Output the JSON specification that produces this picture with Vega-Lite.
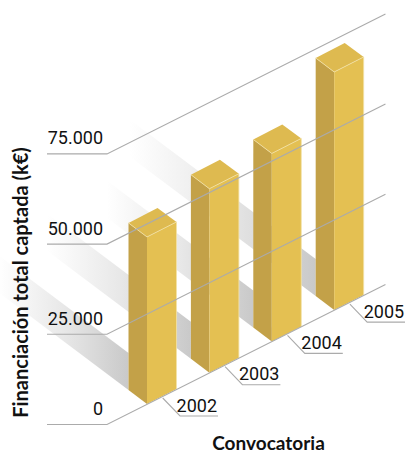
{
  "$schema": "https://vega.github.io/schema/vega-lite/v6.json",
  "width": 405,
  "height": 452,
  "padding": 0,
  "autosize": {"type": "none"},
  "background": "white",
  "config": {"view": {"stroke": null}},
  "datasets": {
    "bars": [
      {"year": 2002, "value": 46300},
      {"year": 2003, "value": 51000},
      {"year": 2004, "value": 52100},
      {"year": 2005, "value": 66000}
    ],
    "levels": [
      {"level": 0, "label": "0"},
      {"level": 25000, "label": "25.000"},
      {"level": 50000, "label": "50.000"},
      {"level": 75000, "label": "75.000"}
    ]
  },
  "encoding": {
    "x": {
      "field": "px",
      "type": "quantitative",
      "scale": {"domain": [1999.644, 2006.135], "range": [0, 405], "nice": false, "zero": false},
      "axis": {"title": "Convocatoria", "domain": false, "ticks": false, "labels": false, "grid": false, "zindex": 1, "titleFont": "Lato", "titleFontSize": 19, "titleFontWeight": "bold", "titleColor": "#111", "titleX": 268, "titleY": -3, "titleAlign": "center", "titleBaseline": "alphabetic"}
    },
    "y": {
      "field": "pu",
      "type": "quantitative",
      "scale": {"domain": [-13304, 111973], "nice": false, "zero": false},
      "axis": {"title": "Financiación total captada (k€)", "domain": false, "ticks": false, "labels": false, "grid": false, "zindex": 1, "titleFont": "Lato", "titleFontSize": 20, "titleFontWeight": "bold", "titleColor": "#111", "titleAngle": 270, "titleX": 27, "titleY": 282, "titleAlign": "center", "titleBaseline": "alphabetic"}
    }
  },
  "layer": [
    {
      "data": {"name": "bars"},
      "transform": [
        {"calculate": "[{k:0,far:1},{k:1,far:0}]", "as": "pts"},
        {"flatten": ["pts"]},
        {"calculate": "datum.year - 0.2965 - datum.pts.far * datum.value * 0.0000451", "as": "px"},
        {"calculate": "(datum.year - 2002) * 8675 + 3880 + datum.pts.far * datum.value * 0.585", "as": "pu"},
        {"calculate": "datum.pu + 10256", "as": "pu2"}
      ],
      "mark": {
        "type": "area",
        "orient": "vertical",
        "color": {
          "gradient": "linear", "x1": 0, "y1": 0, "x2": 1, "y2": 0,
          "stops": [
            {"offset": 0, "color": "rgba(200,200,200,0)"},
            {"offset": 0.5, "color": "rgba(200,200,200,0.42)"},
            {"offset": 1, "color": "rgba(198,198,198,0.95)"}
          ]
        }
      },
      "encoding": {
        "y2": {"field": "pu2"},
        "detail": {"field": "year", "type": "nominal"}
      }
    },
    {
      "data": {"name": "bars"},
      "transform": [
        {"calculate": "[{f:'left',k:0,dx:-0.2965,du:3880,h:0},{f:'left',k:1,dx:0,du:0,h:0},{f:'left',k:2,dx:0,du:0,h:1},{f:'left',k:3,dx:-0.2965,du:3880,h:1},{f:'front',k:0,dx:0,du:0,h:0},{f:'front',k:1,dx:0.4728,du:4157,h:0},{f:'front',k:2,dx:0.4728,du:4157,h:1},{f:'front',k:3,dx:0,du:0,h:1},{f:'top',k:0,dx:-0.2965,du:3880,h:1},{f:'top',k:1,dx:0,du:0,h:1},{f:'top',k:2,dx:0.4728,du:4157,h:1},{f:'top',k:3,dx:0.1683,du:8037,h:1}]", "as": "pts"},
        {"flatten": ["pts"]},
        {"calculate": "datum.pts.f", "as": "face"},
        {"calculate": "datum.pts.k", "as": "k"},
        {"calculate": "datum.year + datum.pts.dx", "as": "px"},
        {"calculate": "(datum.year - 2002) * 8675 + datum.pts.du + datum.pts.h * datum.value", "as": "pu"}
      ],
      "mark": {"type": "line", "strokeWidth": 0},
      "encoding": {
        "fill": {"field": "face", "type": "nominal", "scale": {"domain": ["left", "front", "top"], "range": ["#C3A148", "#E4C052", "#DEBA50"]}, "legend": null},
        "detail": {"field": "year", "type": "nominal"},
        "order": {"field": "k", "type": "quantitative"}
      }
    },
    {
      "data": {"name": "bars"},
      "transform": [
        {"calculate": "[{k:0,dx:-0.2965,du:3880,h:1},{k:1,dx:0,du:0,h:1},{k:2,dx:0.4728,du:4157,h:1},{k:3,dx:0.4728,du:4157,h:0}]", "as": "pts"},
        {"flatten": ["pts"]},
        {"calculate": "datum.pts.k", "as": "k"},
        {"calculate": "datum.year + datum.pts.dx", "as": "px"},
        {"calculate": "(datum.year - 2002) * 8675 + datum.pts.du + datum.pts.h * datum.value", "as": "pu"}
      ],
      "mark": {"type": "line", "color": "#F3E2A8", "strokeWidth": 0.8},
      "encoding": {
        "detail": {"field": "year", "type": "nominal"},
        "order": {"field": "k", "type": "quantitative"}
      }
    },
    {
      "data": {"name": "levels"},
      "transform": [
        {"calculate": "[{k:0,t:2000.397,du:-5682},{k:1,t:2001.359,du:-5682},{k:2,t:2005.822,du:33120}]", "as": "pts"},
        {"flatten": ["pts"]},
        {"calculate": "datum.pts.k", "as": "k"},
        {"calculate": "datum.pts.t", "as": "px"},
        {"calculate": "datum.level + datum.pts.du", "as": "pu"}
      ],
      "mark": {"type": "line", "color": "#ABABAB", "strokeWidth": 1.1},
      "encoding": {
        "detail": {"field": "level", "type": "nominal"},
        "order": {"field": "k", "type": "quantitative"}
      }
    },
    {
      "data": {"name": "bars"},
      "transform": [
        {"calculate": "[{k:0,dx:0.252,du:1663},{k:1,dx:0.529,du:-3326},{k:2,dx:1.138,du:-3326}]", "as": "pts"},
        {"flatten": ["pts"]},
        {"calculate": "datum.pts.k", "as": "k"},
        {"calculate": "datum.year + datum.pts.dx", "as": "px"},
        {"calculate": "(datum.year - 2002) * 8675 + datum.pts.du", "as": "pu"}
      ],
      "mark": {"type": "line", "color": "#ABABAB", "strokeWidth": 1.1},
      "encoding": {
        "detail": {"field": "year", "type": "nominal"},
        "order": {"field": "k", "type": "quantitative"}
      }
    },
    {
      "data": {"name": "levels"},
      "transform": [
        {"calculate": "2001.295", "as": "px"},
        {"calculate": "datum.level - 3049", "as": "pu"}
      ],
      "mark": {"type": "text", "align": "right", "baseline": "alphabetic", "font": "Roboto", "fontSize": 18, "color": "#111"},
      "encoding": {"text": {"field": "label", "type": "nominal"}}
    },
    {
      "data": {"name": "bars"},
      "transform": [
        {"calculate": "datum.year + 1.122", "as": "px"},
        {"calculate": "(datum.year - 2002) * 8675 - 2079", "as": "pu"},
        {"calculate": "'' + datum.year", "as": "label"}
      ],
      "mark": {"type": "text", "align": "right", "baseline": "alphabetic", "font": "Roboto", "fontSize": 18, "color": "#111"},
      "encoding": {"text": {"field": "label", "type": "nominal"}}
    }
  ]
}
